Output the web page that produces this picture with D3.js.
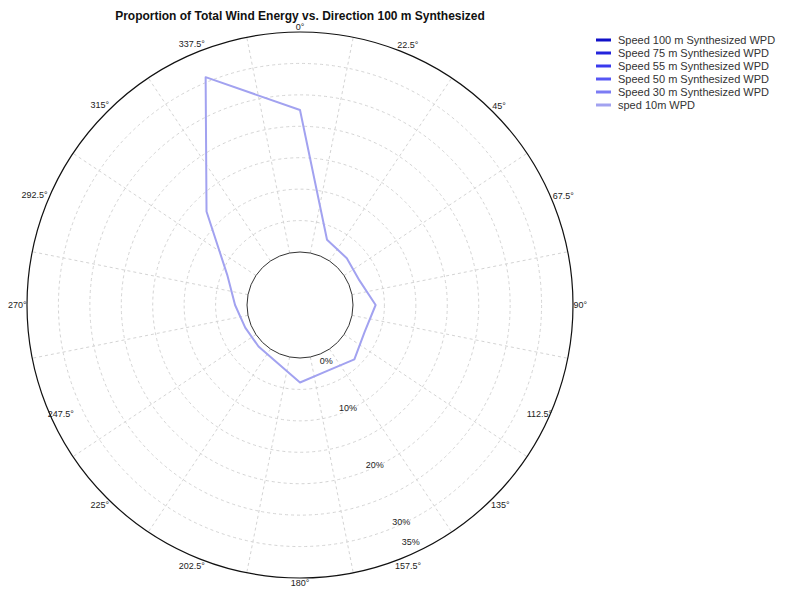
<!DOCTYPE html>
<html>
<head>
<meta charset="utf-8">
<script src="https://cdn.jsdelivr.net/npm/d3@7"></script>
<style>
  body { margin: 0; background: #fff; }
  text { font-family: "Liberation Sans", Arial, sans-serif; }
</style>
</head>
<body>
<svg id="chart" width="787" height="590"></svg>
<script>
// Direction sectors (degrees, clockwise from north)
const directions = [0, 22.5, 45, 67.5, 90, 112.5, 135, 157.5, 180, 202.5, 225, 247.5, 270, 292.5, 315, 337.5];
const directionLabels = ["0°", "22.5°", "45°", "67.5°", "90°", "112.5°", "135°", "157.5°", "180°", "202.5°", "225°", "247.5°", "270°", "292.5°", "315°", "337.5°"];

// Proportion of total wind energy per sector (%), 10 m measurement
const energySped10m = [22.6, 2.8, 2.1, 1.8, 3.6, 2.7, 3.8, 2.9, 3.9, 1.4, 0.9, 1.0, 1.9, 4.1, 12.6, 30.8];

// Legend entries
const seriesNames = [
  "Speed 100 m Synthesized WPD",
  "Speed 75 m Synthesized WPD",
  "Speed 55 m Synthesized WPD",
  "Speed 50 m Synthesized WPD",
  "Speed 30 m Synthesized WPD",
  "sped 10m WPD"
];
const seriesColors = ["#1010c8", "#2424dc", "#3a3aee", "#5656f4", "#7c7cf4", "#a2a2f0"];

// Radial axis
const radialTicks = [0, 10, 20, 30, 35];
const radialTickLabels = ["0%", "10%", "20%", "30%", "35%"];
const gridRings = [5, 10, 15, 20, 25, 30];

const svg = d3.select("#chart");
const cx = 300, cy = 305;
const r = d3.scaleLinear().domain([0, 35]).range([53, 273]);
const rad = d => d * Math.PI / 180;

svg.append("rect").attr("width", 787).attr("height", 590).attr("fill", "#fff");

// Title
svg.append("text")
  .attr("x", 300).attr("y", 20)
  .attr("text-anchor", "middle")
  .attr("font-size", 12).attr("font-weight", "bold")
  .attr("fill", "#111")
  .text("Proportion of Total Wind Energy vs. Direction 100 m Synthesized");

const g = svg.append("g").attr("transform", `translate(${cx},${cy})`);

// Dashed grid rings
g.selectAll("circle.ring").data(gridRings).join("circle")
  .attr("class", "ring")
  .attr("r", d => r(d))
  .attr("fill", "none")
  .attr("stroke", "#d4d4d4")
  .attr("stroke-width", 1)
  .attr("stroke-dasharray", "3,3");

// Sector boundary spokes
const spokes = directions.map(d => d + 11.25);
g.selectAll("line.spoke").data(spokes).join("line")
  .attr("class", "spoke")
  .attr("x1", d => r(0) * Math.sin(rad(d)))
  .attr("y1", d => -r(0) * Math.cos(rad(d)))
  .attr("x2", d => r(35) * Math.sin(rad(d)))
  .attr("y2", d => -r(35) * Math.cos(rad(d)))
  .attr("stroke", "#d4d4d4")
  .attr("stroke-width", 1)
  .attr("stroke-dasharray", "3,3");

// Outer and inner circles
g.append("circle").attr("r", r(35)).attr("fill", "none").attr("stroke", "#111").attr("stroke-width", 1.2);
g.append("circle").attr("r", r(0)).attr("fill", "none").attr("stroke", "#333").attr("stroke-width", 1);

// Energy rose line
const line = d3.lineRadial()
  .angle((d, i) => rad(directions[i]))
  .radius(d => r(d))
  .curve(d3.curveLinearClosed);

g.append("path")
  .datum(energySped10m)
  .attr("d", line)
  .attr("fill", "none")
  .attr("stroke", seriesColors[5])
  .attr("stroke-width", 2)
  .attr("stroke-linejoin", "round");

// Direction labels: set just beyond the rim, sized by their own extent;
// the two lower-side labels at 112.5° and 247.5° hang inside the rim from its edge.
const insideRim = new Set([112.5, 247.5]);
const dirText = g.selectAll("text.dir").data(directions).join("text")
  .attr("class", "dir")
  .attr("text-anchor", "middle")
  .attr("dominant-baseline", "central")
  .attr("font-size", 9)
  .attr("fill", "#222")
  .text((d, i) => directionLabels[i]);
dirText.each(function(d) {
  const w = this.getComputedTextLength() / 2, h = 4.5;
  const s = Math.sin(rad(d)), c = Math.cos(rad(d));
  const R = r(35);
  if (insideRim.has(d)) {
    d3.select(this)
      .attr("x", R * s - Math.sign(s) * w)
      .attr("y", -R * c + h);
  } else {
    const rr = R + Math.abs(s) * w + Math.abs(c) * h + 0.5;
    d3.select(this).attr("x", rr * s).attr("y", -rr * c);
  }
});

// Radial tick labels along the 155° bearing
const labelBearing = rad(155);
const labelRadius = v => v === 0 ? r(v) + 9 : (v === 35 ? r(v) - 11 : r(v) - 2);
g.selectAll("text.rt").data(radialTicks).join("text")
  .attr("class", "rt")
  .attr("x", d => labelRadius(d) * Math.sin(labelBearing))
  .attr("y", d => -labelRadius(d) * Math.cos(labelBearing))
  .attr("text-anchor", "middle")
  .attr("dominant-baseline", "central")
  .attr("font-size", 9)
  .attr("fill", "#222")
  .text((d, i) => radialTickLabels[i]);

// Legend
const legend = svg.append("g").attr("transform", "translate(596,40)");
const rows = legend.selectAll("g").data(seriesNames).join("g")
  .attr("transform", (d, i) => `translate(0,${i * 13})`);
rows.append("line")
  .attr("x1", 0).attr("x2", 15).attr("y1", 0).attr("y2", 0)
  .attr("stroke", (d, i) => seriesColors[i])
  .attr("stroke-width", 3);
rows.append("text")
  .attr("x", 22).attr("y", 0)
  .attr("dominant-baseline", "central")
  .attr("font-size", 11)
  .attr("fill", "#333")
  .text(d => d);
</script>
</body>
</html>
